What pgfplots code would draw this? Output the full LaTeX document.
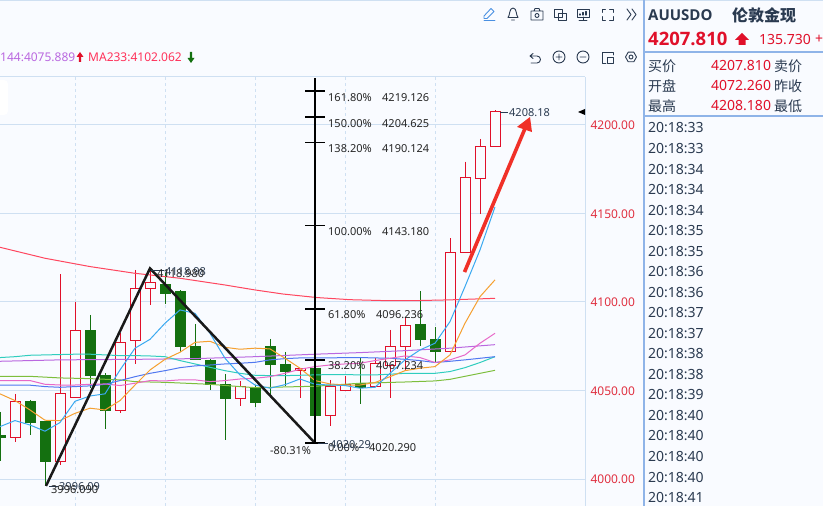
\documentclass[border=0pt]{standalone}
\usepackage{fontspec}
\usepackage{pgfplots}
\pgfplotsset{compat=1.18}
\setmainfont{Noto Sans}
\newfontfamily\cjk{Noto Sans CJK SC}
\newfontfamily\heavy{Open Sans}
\definecolor{bg}{HTML}{F9FBFF}
\definecolor{gridc}{HTML}{CFE0F2}
\definecolor{cred}{HTML}{E0102A}
\definecolor{cgreen}{HTML}{147010}
\definecolor{ink}{HTML}{2A3A50}
\definecolor{tick}{HTML}{E03040}
\definecolor{panel}{HTML}{8FB4E8}
\newcommand{\fs}[1]{\fontsize{#1}{#1}\selectfont}
% x, high, body top, body bottom, low
\newcommand{\up}[5]{%
  \addplot[cred,line width=1pt] coordinates {(#1,#2)(#1,#5)};
  \addplot[cred,fill=bg,line width=1pt] coordinates {(\the\numexpr#1-5\relax,#3)(\the\numexpr#1+5\relax,#3)(\the\numexpr#1+5\relax,#4)(\the\numexpr#1-5\relax,#4)} -- cycle;
}
\newcommand{\dn}[5]{%
  \addplot[cgreen,line width=1pt] coordinates {(#1,#2)(#1,#5)};
  \addplot[cgreen,fill=cgreen,line width=.5pt] coordinates {(\the\numexpr#1-5\relax,#3)(\the\numexpr#1+5\relax,#3)(\the\numexpr#1+5\relax,#4)(\the\numexpr#1-5\relax,#4)} -- cycle;
}
\begin{document}
\begin{tikzpicture}[x=1pt,y=1pt]
\path[use as bounding box,fill=bg] (0,0) rectangle (823,506);
\begin{axis}[at={(0,0)},anchor=south west,scale only axis,width=585pt,height=429pt,
  xmin=0,xmax=585,ymin=3984.75,ymax=4227.1,
  axis y line=right,axis x line=top,axis line style={-,draw=gridc,line width=1pt},
  xtick={75,165,255,345,435},xticklabels={},
  ytick={4000,4050,4100,4150,4200},
  major tick length=0pt,
  grid=major,
  x grid style={gridc,dashed,line width=.8pt},
  y grid style={gridc,line width=1pt},
  yticklabel style={text=tick,font=\fs{12},anchor=west,xshift=2pt,yshift=-.6pt,
    /pgf/number format/.cd,fixed,fixed zerofill,precision=2,1000 sep={},assume math mode=true},
]
\dn{0}{4037.9}{4024.7}{4023.4}{4010.4}
\up{15}{4048.1}{4043.9}{4023.6}{4021.1}
\dn{30}{4044.7}{4043.9}{4032.2}{4025.1}
\dn{45}{4032.8}{4032.8}{4009.8}{3996.09}
\up{60}{4115.8}{4048.4}{4010.0}{4008.1}
\up{75}{4100.0}{4084.0}{4046.2}{4046.2}
\dn{90}{4092.7}{4084.2}{4058.4}{4051.3}
\dn{105}{4059.7}{4058.8}{4038.6}{4028.3}
\up{120}{4082.7}{4077.2}{4038.6}{4037.5}
\up{135}{4118.1}{4107.7}{4078.4}{4065.0}
\up{150}{4118.98}{4111.1}{4107.6}{4098.3}
\dn{165}{4116.6}{4110.2}{4105.1}{4098.9}
\dn{180}{4106.6}{4106.2}{4074.8}{4072.0}
\dn{195}{4087.6}{4075.2}{4067.5}{4067.5}
\dn{210}{4067.8}{4067.3}{4053.3}{4050.3}
\dn{225}{4059.4}{4053.5}{4045.4}{4022.1}
\up{240}{4055.4}{4052.2}{4045.6}{4041.3}
\dn{255}{4053.1}{4051.6}{4043.2}{4040.7}
\dn{270}{4079.1}{4075.0}{4064.6}{4047.1}
\dn{285}{4071.8}{4065.0}{4060.9}{4052.8}
\up{300}{4062.7}{4062.6}{4061.4}{4045.8}
\dn{315}{4062.7}{4062.7}{4035.8}{4035.8}
\up{330}{4056.0}{4052.4}{4036.0}{4030.2}
\up{345}{4058.2}{4053.3}{4049.9}{4049.9}
\dn{360}{4068.8}{4053.9}{4052.0}{4042.6}
\up{375}{4068.2}{4065.2}{4052.2}{4052.2}
\up{390}{4084.2}{4074.8}{4064.4}{4046.0}
\up{405}{4091.4}{4086.8}{4074.8}{4061.6}
\dn{420}{4106.2}{4087.6}{4078.7}{4075.2}
\dn{435}{4085.9}{4079.1}{4072.0}{4065.4}
\up{450}{4136.0}{4128.1}{4072.0}{4072.0}
\up{465}{4179.3}{4170.5}{4128.1}{4128.1}
\up{480}{4192.1}{4188.0}{4169.9}{4149.7}
\up{495}{4208.18}{4207.81}{4188.0}{4188.0}
% MA233
\addplot[color={rgb,255:red,255;green,70;blue,95},line width=1pt] coordinates {(0,4130.9)(45,4124.7)(90,4120)(135,4116.2)(180,4113.4)(225,4109.6)(255,4106.8)(283,4104.5)(317,4102.5)(350,4101.3)(383,4100.8)(417,4100.8)(450,4101.2)(495,4102.06)};
% MA144
\addplot[color={rgb,255:red,186;green,104;blue,224},line width=1pt] coordinates {(0,4066.5)(60,4067.3)(135,4067.6)(195,4068)(255,4069.1)(315,4070.5)(360,4071.4)(405,4072.5)(450,4073.9)(495,4075.889)};
% MA89
\addplot[color={rgb,255:red,125;green,190;blue,60},line width=1pt] coordinates {(0,4058)(30,4058)(60,4057.1)(90,4056.7)(120,4056)(135,4055)(165,4054.6)(210,4053.5)(240,4052.2)(255,4051.6)(270,4051.8)(315,4052.4)(360,4054.1)(405,4054.8)(435,4055.4)(450,4056.3)(495,4061.4)};
% MA60
\addplot[color={rgb,255:red,48;green,205;blue,190},line width=1pt] coordinates {(0,4068.6)(15,4069.1)(30,4069.9)(45,4070.1)(60,4070.3)(75,4070.5)(90,4070.5)(105,4070.1)(120,4069.7)(135,4069.7)(150,4069.5)(165,4069.1)(180,4066.9)(195,4065)(210,4063.1)(225,4061.2)(240,4059.7)(255,4058.6)(270,4058.4)(285,4058.4)(300,4058.6)(315,4058.8)(330,4059)(345,4059)(360,4058.8)(375,4058.8)(390,4059.2)(405,4059.7)(420,4059.7)(435,4059.7)(450,4060.7)(465,4062.9)(480,4065.8)(495,4069.1)};
% MA30
\addplot[color={rgb,255:red,80;green,120;blue,240},line width=1pt] coordinates {(0,4053)(15,4053)(30,4053)(45,4052.2)(60,4051.8)(75,4052.2)(90,4052.6)(105,4053.5)(120,4055.6)(135,4057.8)(150,4059.7)(165,4061.2)(180,4062.9)(195,4063.9)(210,4064.4)(225,4065)(240,4065.4)(255,4065.9)(270,4067.3)(285,4068)(300,4068.4)(315,4068.4)(330,4068.4)(345,4068.6)(360,4068.6)(375,4068.4)(390,4068.2)(405,4067.6)(420,4066.9)(435,4065.8)(450,4066.5)(465,4067.3)(480,4068.2)(495,4069.1)};
% MA20
\addplot[color={rgb,255:red,232;green,104;blue,200},line width=1pt] coordinates {(0,4055.6)(15,4055.6)(30,4055.6)(45,4053.5)(60,4053.1)(75,4053.1)(90,4053.5)(105,4053.7)(120,4052.8)(135,4054.1)(150,4055.6)(165,4055.4)(180,4056)(195,4056)(210,4055)(225,4055.6)(240,4056.5)(255,4056.9)(270,4057.8)(285,4059.7)(300,4062)(315,4063.5)(330,4064.4)(345,4065)(360,4065.4)(375,4066.9)(390,4068.2)(405,4069.5)(420,4068.6)(435,4065.8)(450,4067.3)(465,4070.1)(480,4076.7)(495,4082.3)};
% MA10
\addplot[color={rgb,255:red,245;green,160;blue,48},line width=1pt] coordinates {(0,4048.1)(15,4044.3)(30,4039)(45,4033.2)(60,4033)(75,4037.1)(90,4040)(105,4039)(120,4044.3)(135,4053.1)(150,4061.6)(165,4067.6)(180,4071.6)(195,4077.2)(210,4077.8)(225,4074.4)(240,4073.3)(255,4073.9)(270,4073.5)(285,4068.2)(300,4062.6)(315,4055.6)(330,4053.7)(345,4053.1)(360,4053.1)(375,4054.5)(390,4057.8)(405,4061.2)(420,4062.6)(435,4063.5)(450,4070.1)(465,4088)(480,4103)(495,4112.5)};
% MA5
\addplot[color={rgb,255:red,59;green,169;blue,240},line width=1pt] coordinates {(0,4029.6)(15,4033)(30,4030.5)(45,4027)(60,4031.9)(75,4043.9)(90,4046.9)(105,4048.1)(120,4061.6)(135,4073.9)(150,4078.9)(165,4088)(180,4095.5)(195,4093.6)(210,4082.3)(225,4068.2)(240,4058.8)(255,4053.1)(270,4051.3)(285,4053.3)(300,4056.5)(315,4053.5)(330,4053.1)(345,4052.8)(360,4051.3)(375,4051.8)(390,4059.7)(405,4067.3)(420,4072.9)(435,4076.7)(450,4088.9)(465,4108.7)(480,4129.4)(495,4153.7)};
% wave and Fibonacci ladder
\addplot[black!90,line width=2.5pt] coordinates {(46,3996.09)(150,4118.98)(315,4020.29)};
\addplot[black,line width=2.4pt] coordinates {(315,4020.29)(315,4226.6)};
\addplot[black,line width=1.8pt] coordinates {(305,4020.29)(325,4020.29)};
\addplot[black,line width=1.8pt] coordinates {(305,4067.234)(325,4067.234)};
\addplot[black,line width=1.8pt] coordinates {(305,4096.236)(325,4096.236)};
\addplot[black,line width=1.8pt] coordinates {(305,4143.18)(325,4143.18)};
\addplot[black,line width=1.8pt] coordinates {(305,4190.124)(325,4190.124)};
\addplot[black,line width=1.8pt] coordinates {(305,4204.625)(325,4204.625)};
\addplot[black,line width=1.8pt] coordinates {(305,4219.126)(325,4219.126)};
% red arrow
\addplot[color={rgb,255:red,240;green,48;blue,40},line width=3.6pt] coordinates {(464.5,4116.9)(525,4198.0)};
\addplot[draw=none,fill={rgb,255:red,240;green,48;blue,40}] coordinates {(530,4204.5)(517,4198.9)(532,4196)} -- cycle;
\end{axis}
\begin{scope}[y=-1pt,yshift=506pt,T/.style={anchor=west,inner sep=0pt}]
% top rule and side panel rules
\draw[gridc,line width=1.2pt] (0,0.5)--(823,0.5);
\draw[panel,line width=1.4pt] (644,0)--(644,506);
\draw[panel,line width=1.2pt] (644,52)--(823,52);
\draw[panel,line width=1.4pt] (644,116)--(823,116);
\fill[white] (-6,80) [rounded corners=4pt] rectangle (8,115);
% MA legend
\node[T,text={rgb,255:red,186;green,104;blue,224},font=\fs{12}] at (0,57.5) {144:4075.889};
\fill[cred] (80,52)--(83.5,57)--(81.2,57)--(81.2,62)--(78.8,62)--(78.8,57)--(76.5,57)--cycle;
\node[T,text={rgb,255:red,255;green,50;blue,90},font=\fs{12}] at (88,57.5) {MA233:4102.062};
\fill[cgreen] (191,63)--(187.5,58)--(189.8,58)--(189.8,52)--(192.2,52)--(192.2,58)--(194.5,58)--cycle;
% Fibonacci labels
\foreach \y/\p/\v/\vx in {97.5/161.80/4219.126/382,123.5/150.00/4204.625/382,148.5/138.20/4190.124/382,231.5/100.00/4143.180/382,314.5/61.80/4096.236/376,365.5/38.20/4067.234/376}{
  \node[T,text=black!85,font=\fs{11}] at (328,\y) {\p\%};
  \node[T,text=black!85,font=\fs{11}] at (\vx,\y) {\v};
}
\node[T,text=black!85,font=\fs{11}] at (328,448) {0.00\%};
\node[T,text=ink,font=\fs{11}] at (330,445) {4020.29};
\draw[ink,line width=.8pt] (318,443)--(328,443);
\node[T,text=black!85,font=\fs{11}] at (369,448) {4020.290};
\node[T,text=black!85,font=\fs{11}] at (270,451) {-80.31\%};
\node[T,text=ink,font=\fs{11}] at (59,487) {3996.09};
\draw[ink,line width=.8pt] (49,486)--(58,486);
\node[T,text=black!85,font=\fs{11}] at (51,490) {3996.090};
\node[T,text=ink,font=\fs{11}] at (165,271.5) {4118.98};
\draw[ink,line width=.8pt] (151,270)--(164,270);
\node[T,text=black!85,font=\fs{11}] at (157,274) {4118.980};
\node[T,text=ink,font=\fs{11}] at (509,113) {4208.18};
\draw[ink,line width=.8pt] (500,112.5)--(508,112.5);
\fill[black] (578,112)--(585,109)--(585,115)--cycle;
% side panel
\node[T,text=ink,font=\heavy\fs{15}\bfseries] at (648,15.5) {AUUSDO};
\node[T,text=ink,font=\cjk\fs{16}\bfseries] at (732,15.5) {伦敦金现};
\node[T,text=cred,font=\heavy\fs{18.5}\bfseries] at (648,38.5) {4207.810};
\fill[cred] (742,33)--(749,40)--(745.5,40)--(745.5,45)--(738.5,45)--(738.5,40)--(735,40)--cycle;
\node[T,text=cred,font=\fs{14}] at (759,39.5) {135.730};
\node[T,text=cred,font=\fs{14}] at (815,39.5) {+};
\foreach \y/\a/\v/\b in {66/买价/4207.810/卖价,86/开盘/4072.260/昨收,106/最高/4208.180/最低}{
  \node[T,text=ink,font=\cjk\fs{14}] at (648,\y) {\a};
  \node[T,text=cred,font=\fs{14}] at (711,\y) {\v};
  \node[T,text=ink,font=\cjk\fs{14}] at (774,\y) {\b};
}
\foreach \y/\t in {127.7/33,148.7/33,169.2/34,189.7/34,210.7/34,230.7/35,251.7/35,271.7/36,292.7/36,312.7/37,333.7/37,353.7/38,374.7/38,394.7/39,415.7/40,435.7/40,456.7/40,477.7/40,497.7/41}{
  \node[T,text=ink,font=\fs{14}] at (648,\y) {20:18:\t};
}
% toolbar icons
\begin{scope}[draw=ink,line width=.9pt,line cap=round,line join=round]
\draw[color={rgb,255:red,74;green,144;blue,226}] (484,16)--(491,8.5)--(494,11.5)--(487,18.5)--(484,18.5)--cycle (484,20.5)--(495,20.5);
\draw (508,17.5) .. controls (510,16) and (509,8) .. (513,8) .. controls (517,8) and (516,16) .. (518,17.5) -- cycle (511.5,20)--(514.5,20);
\draw (531,11)--(543,11)--(543,20)--(531,20)--cycle (534,11)--(535,8.5)--(539,8.5)--(540,11);
\draw (537,15.5) circle (2pt);
\draw (554,9)--(562,9)--(562,17)--(554,17)--cycle (558,13)--(566,13)--(566,20)--(558,20)--cycle;
\draw (577,9)--(589,9)--(589,17)--(577,17)--cycle (583,17)--(583,20) (579,20)--(587,20);
\draw[line width=1.2pt] (580,15)--(580,14) (583,15)--(583,12.5) (586,15)--(586,11.5);
\draw (602,12.5)--(602,9)--(605.5,9) (609.5,9)--(613,9)--(613,12.5) (613,16.5)--(613,20)--(609.5,20) (605.5,20)--(602,20)--(602,16.5);
\draw (627,9)--(631,14.5)--(627,20) (632,9)--(636,14.5)--(632,20);
\draw (533,53.5)--(530,56)--(533,58.5) (530,56)--(537,56) arc (90:-90:3.5pt)--(531,63);
\draw (559,57) circle (6pt) (556,57)--(562,57) (559,54)--(559,60);
\draw (583,57) circle (6pt) (580,57)--(586,57);
\draw (613,55)--(613,52)--(602,52)--(602,63)--(606,63) (607,57)--(613,57)--(613,63)--(607,63)--cycle;
\draw (625.5,57)--(628.2,52.2)--(633.8,52.2)--(636.5,57)--(633.8,61.8)--(628.2,61.8)--cycle;
\draw (631,57) circle (2pt);
\end{scope}
\end{scope}
\end{tikzpicture}
\end{document}
